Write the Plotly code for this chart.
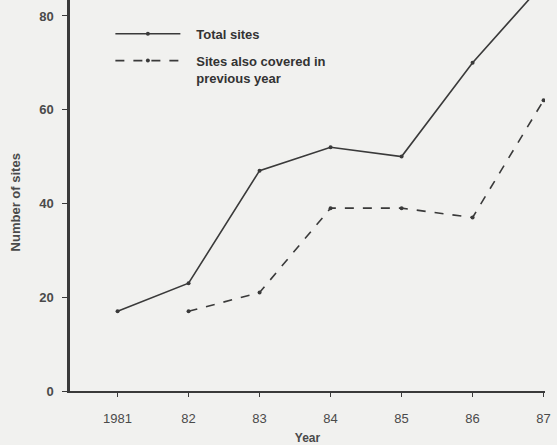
import plotly.graph_objects as go

years_total = [1981, 1982, 1983, 1984, 1985, 1986, 1987]
total_sites = [17, 23, 47, 52, 50, 70, 87]
years_prev = [1982, 1983, 1984, 1985, 1986, 1987]
prev_sites = [17, 21, 39, 39, 37, 62]
x_tick_vals = [1981, 1982, 1983, 1984, 1985, 1986, 1987]
x_tick_text = ["1981", "82", "83", "84", "85", "86", "87"]
y_tick_vals = [0, 20, 40, 60, 80]
y_tick_text = ["0", "20", "40", "60", "80"]

ink = "#3a3a3a"
txt = "#4a4a4a"
fam = "Liberation Sans, Arial, sans-serif"

fig = go.Figure()
fig.add_trace(go.Scatter(
    x=years_total, y=total_sites, name="&nbsp;&nbsp;&nbsp;<b>Total sites</b>",
    legendgroup="total",
    mode="lines+markers",
    line=dict(color=ink, width=1.6),
    marker=dict(size=4, color=ink),
))
fig.add_trace(go.Scatter(
    x=years_prev, y=prev_sites,
    name="&nbsp;&nbsp;&nbsp;<b>Sites also covered in</b><br>&nbsp;&nbsp;&nbsp;<b>previous year</b>",
    legendgroup="prev",
    mode="lines+markers",
    line=dict(color=ink, width=1.6, dash="dash"),
    marker=dict(size=4, color=ink),
))

fig.update_layout(
    width=557, height=445,
    margin=dict(l=70, r=12, t=0, b=54),
    paper_bgcolor="#f1f1ef",
    plot_bgcolor="#f1f1ef",
    font=dict(family=fam, size=12, color=txt),
    showlegend=True,
    legend=dict(
        x=0.085, y=0.952, xanchor="left", yanchor="top",
        bgcolor="rgba(0,0,0,0)",
        font=dict(family=fam, size=13, color="#333"),
        itemwidth=65, tracegroupgap=7, valign="top",
    ),
    xaxis=dict(
        range=[1980.33, 1987.02],
        tickvals=x_tick_vals, ticktext=x_tick_text,
        showgrid=False, zeroline=False,
        showline=True, linecolor=ink, linewidth=2,
        ticks="outside", ticklen=4, tickcolor=ink,
        ticklabelstandoff=10,
        tickfont=dict(family=fam, size=13, color=txt),
        title=dict(text="<b>Year</b>", standoff=12, font=dict(family=fam, size=12, color=txt)),
    ),
    yaxis=dict(
        range=[0, 83.4],
        tickvals=y_tick_vals, ticktext=y_tick_text,
        showgrid=False, zeroline=False,
        showline=True, linecolor=ink, linewidth=2.5,
        ticks="outside", ticklen=5, tickcolor=ink,
        ticklabelstandoff=6,
        tickfont=dict(size=13, color=txt, family=fam, weight="bold"),
    ),
)

fig.add_annotation(
    text="<b>Number of sites</b>", textangle=-90,
    xref="paper", yref="paper",
    x=-0.115, y=1 - 202 / 391, xanchor="center", yanchor="middle",
    showarrow=False,
    font=dict(family=fam, size=13, color=txt),
)

fig.write_html("out.html", config={"displayModeBar": False},
               post_script="document.body.style.margin='0';")
